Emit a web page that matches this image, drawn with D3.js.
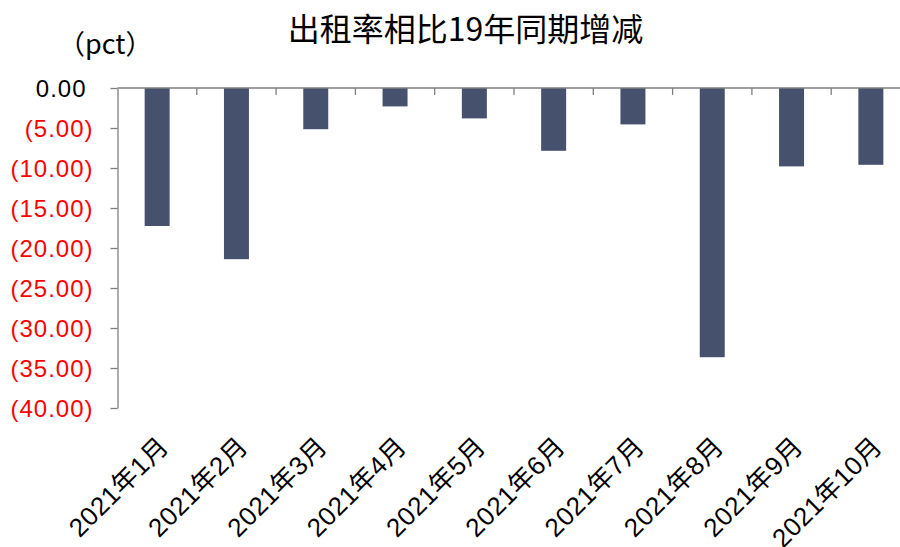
<!DOCTYPE html>
<html><head><meta charset="utf-8">
<script src="https://cdn.jsdelivr.net/npm/d3@7"></script>
<style>body{margin:0;background:#fff;overflow:hidden}svg{display:block}</style>
</head><body>
<svg id="c" width="900" height="547"></svg>
<script>
const categories = ["2021年1月","2021年2月","2021年3月","2021年4月","2021年5月","2021年6月","2021年7月","2021年8月","2021年9月","2021年10月"];
const values = [-17.25, -21.4, -5.15, -2.3, -3.8, -7.85, -4.55, -33.65, -9.8, -9.6];
const yTicks = [0, -5, -10, -15, -20, -25, -30, -35, -40];
const title = "出租率相比19年同期增减";
const unitLabel = "（pct）";

(function () {
const svg = d3.select("#c");
const font = "'Liberation Sans', Arial, 'Noto Sans CJK SC', sans-serif";
const pLeft = 117.5, pRight = 910.5, pTop = 88, pBottom = 408;

const x = d3.scaleBand().domain(categories).range([pLeft, pRight]).paddingInner(0.685).paddingOuter(0.3425);
const y = d3.scaleLinear().domain([-40, 0]).range([pBottom, pTop]);

svg.append("text").attr("x", 465.5).attr("y", 41).attr("text-anchor", "middle")
  .attr("font-family", "'Noto Sans CJK SC', sans-serif").attr("font-size", 32).attr("fill", "#000")
  .text(title);
svg.append("text").attr("x", 58).attr("y", 54)
  .attr("font-family", "'Noto Sans CJK SC', sans-serif").attr("font-size", 27).attr("fill", "#000")
  .text(unitLabel);

svg.append("g").selectAll("rect").data(values).join("rect")
  .attr("x", (d, i) => x(categories[i]))
  .attr("width", x.bandwidth())
  .attr("y", y(0))
  .attr("height", d => y(d) - y(0))
  .attr("fill", "#46516e");

const fmt = v => v === 0 ? "0.00" : "(" + Math.abs(v).toFixed(2) + ")";
const ya = svg.append("g").attr("transform", `translate(${pLeft},0)`)
  .call(d3.axisLeft(y).tickValues(yTicks).tickSize(7).tickSizeOuter(0).tickPadding(0).tickFormat(fmt));
ya.select(".domain").attr("stroke", "#7f7f7f").attr("stroke-width", 1.3);
ya.selectAll(".tick line").attr("stroke", "#7f7f7f").attr("stroke-width", 1.3);
ya.selectAll(".tick text")
  .attr("font-family", font).attr("font-size", 24).attr("letter-spacing", 1)
  .attr("fill", d => d < 0 ? "#ff0000" : "#000")
  .attr("x", d => d === 0 ? -31 : -24)
  .attr("dy", "0.36em");

const xa = svg.append("g");
xa.append("line").attr("x1", pLeft).attr("x2", 900).attr("y1", y(0)).attr("y2", y(0))
  .attr("stroke", "#7f7f7f").attr("stroke-width", 1.3);
const step = x.step();
xa.selectAll("line.t").data(d3.range(1, categories.length + 1)).join("line").attr("class", "t")
  .attr("x1", i => pLeft + i * step).attr("x2", i => pLeft + i * step)
  .attr("y1", y(0)).attr("y2", y(0) + 7)
  .attr("stroke", "#7f7f7f").attr("stroke-width", 1.3);

svg.append("g").selectAll("text").data(categories).join("text")
  .attr("transform", d => `translate(${x(d) + x.bandwidth() / 2 + 13},${448}) rotate(-45)`)
  .attr("text-anchor", "end")
  .attr("font-family", font).attr("font-size", 26).attr("letter-spacing", 0.5).attr("fill", "#000")
  .text(d => d);
})();
</script>
</body></html>
